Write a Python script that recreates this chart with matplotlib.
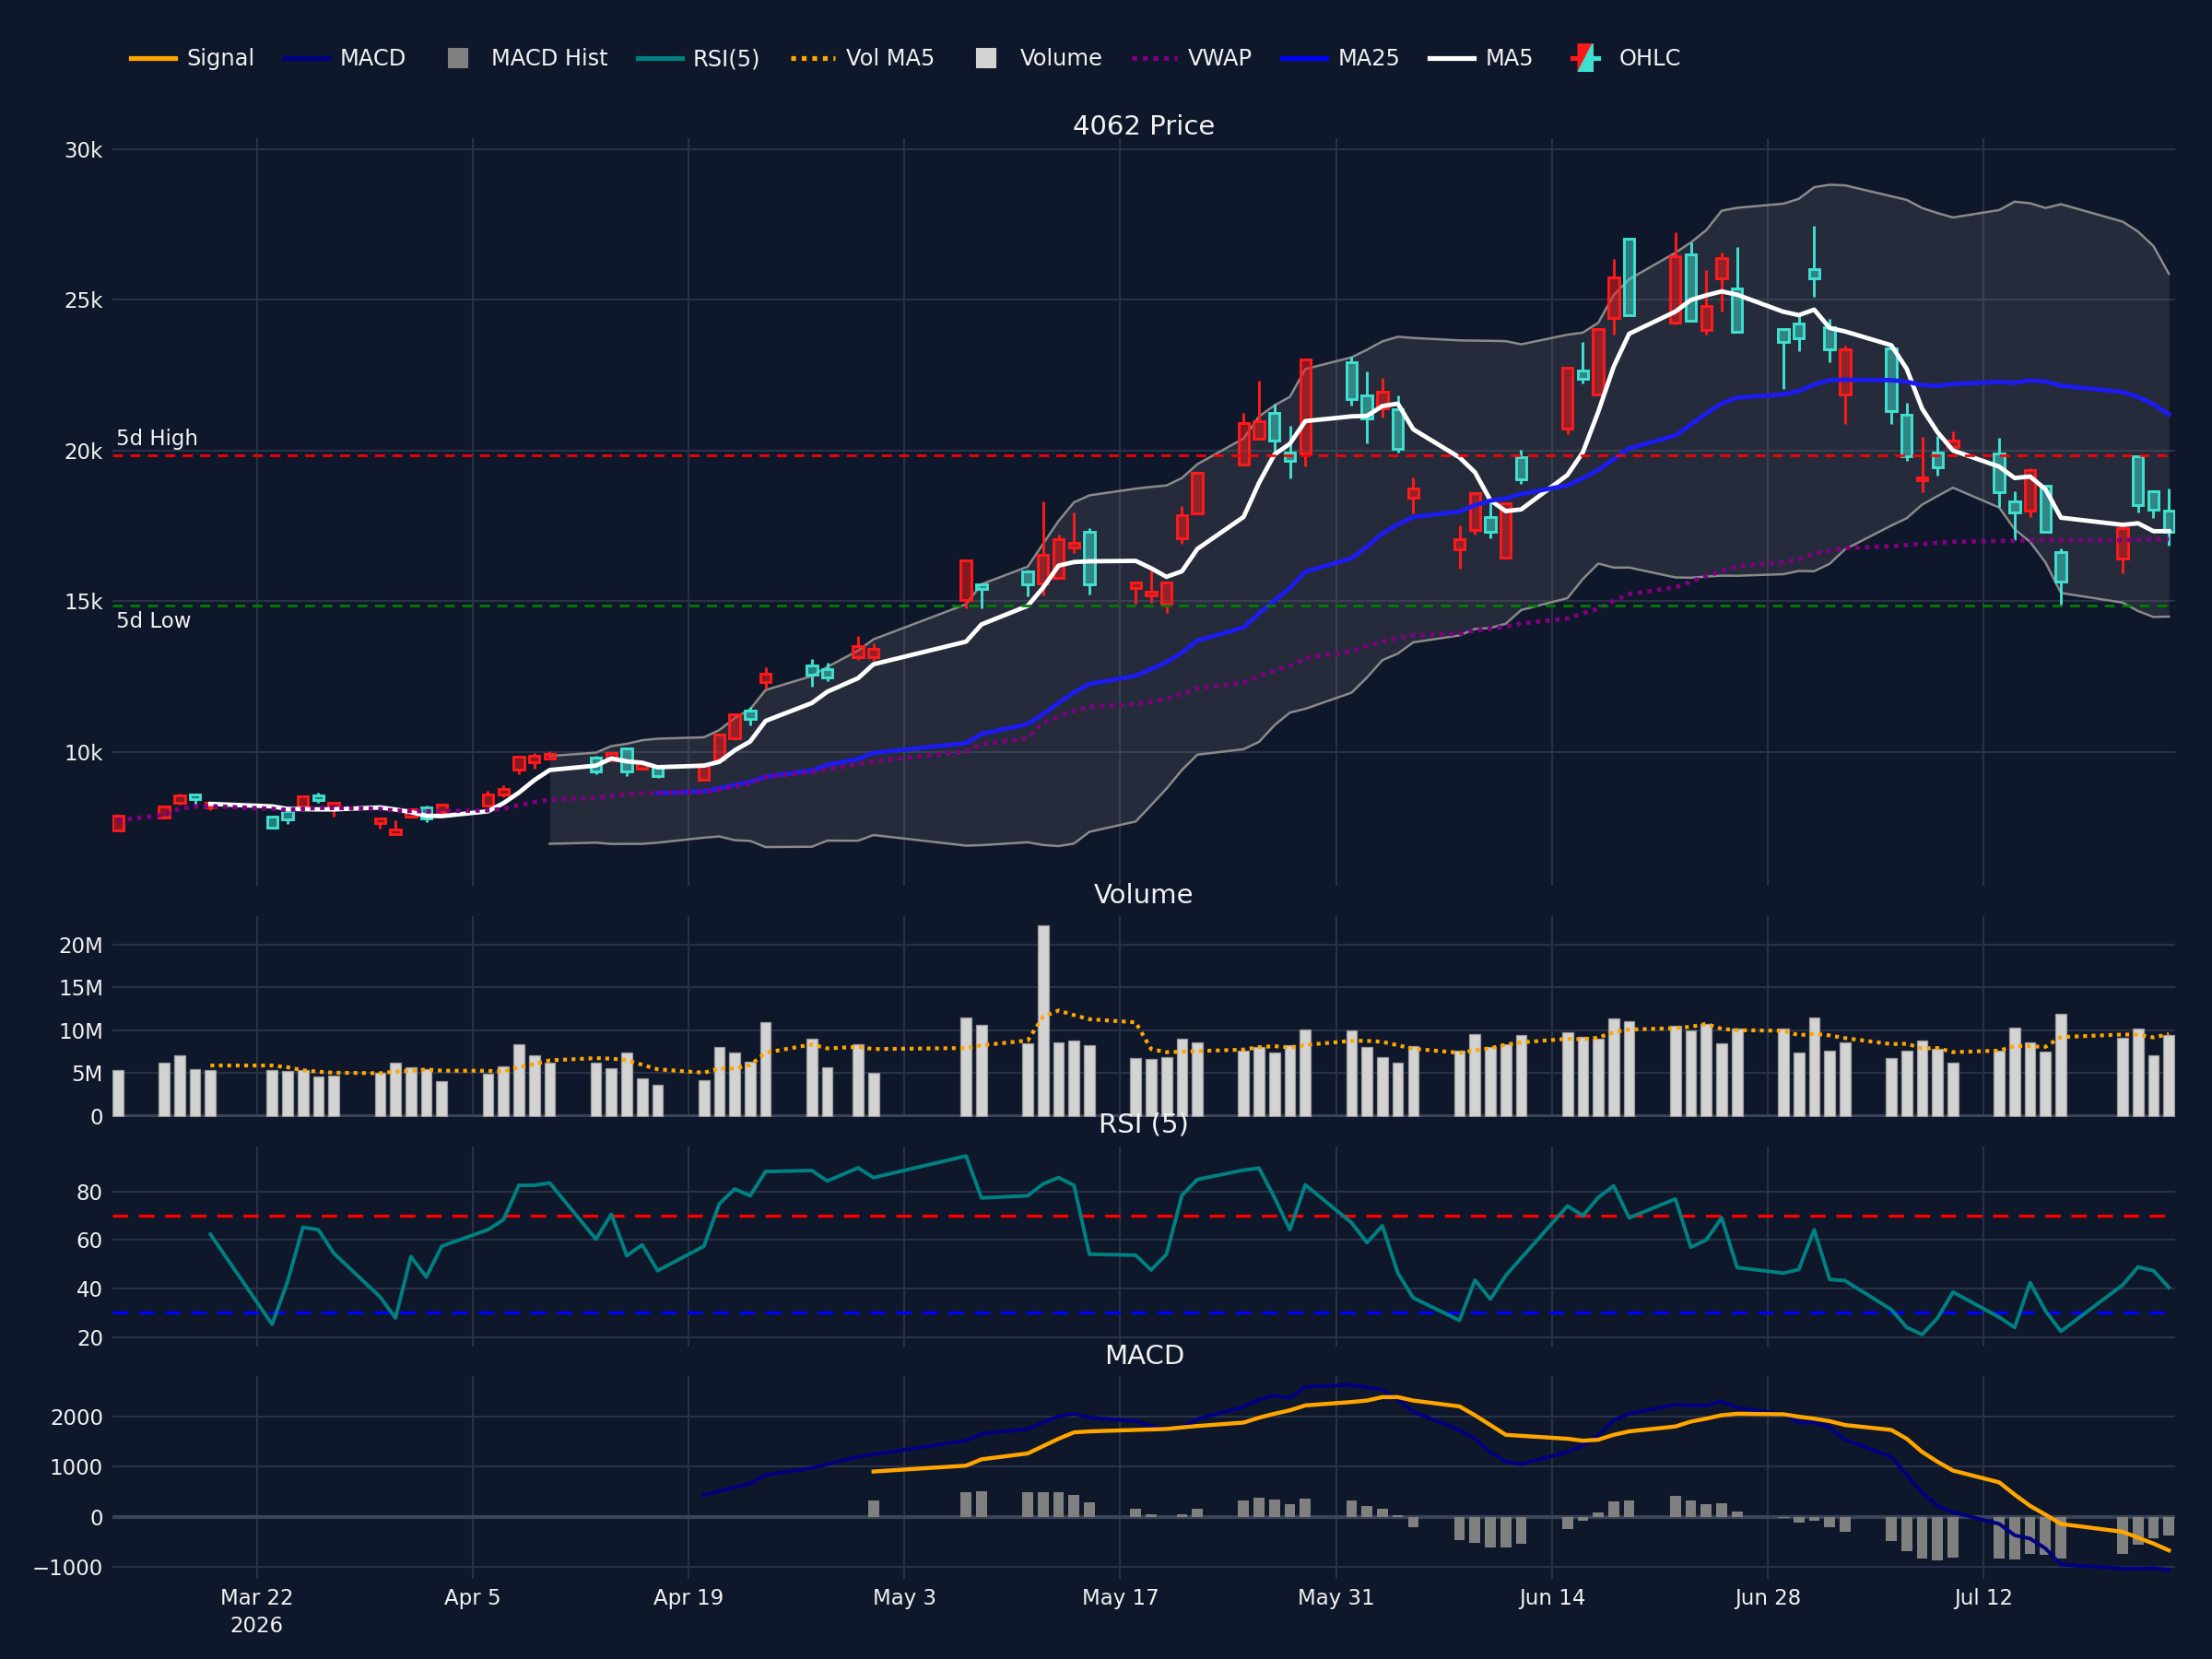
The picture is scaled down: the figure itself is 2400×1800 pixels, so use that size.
import numpy as np
import pandas as pd
import matplotlib
matplotlib.use("Agg")
import matplotlib.pyplot as plt
import matplotlib.dates as mdates
from matplotlib.lines import Line2D
from matplotlib.patches import Polygon
from matplotlib.legend_handler import HandlerBase
from matplotlib.colors import to_rgba

# ---- data ----
dates = ["2026-03-13", "2026-03-16", "2026-03-17", "2026-03-18", "2026-03-19",
         "2026-03-23", "2026-03-24", "2026-03-25", "2026-03-26", "2026-03-27",
         "2026-03-30", "2026-03-31",
         "2026-04-01", "2026-04-02", "2026-04-03", "2026-04-06", "2026-04-07",
         "2026-04-08", "2026-04-09", "2026-04-10", "2026-04-13", "2026-04-14",
         "2026-04-15", "2026-04-16", "2026-04-17", "2026-04-20", "2026-04-21",
         "2026-04-22", "2026-04-23", "2026-04-24", "2026-04-27", "2026-04-28",
         "2026-04-30",
         "2026-05-01", "2026-05-07", "2026-05-08", "2026-05-11", "2026-05-12",
         "2026-05-13", "2026-05-14", "2026-05-15", "2026-05-18", "2026-05-19",
         "2026-05-20", "2026-05-21", "2026-05-22", "2026-05-25", "2026-05-26",
         "2026-05-27", "2026-05-28", "2026-05-29",
         "2026-06-01", "2026-06-02", "2026-06-03", "2026-06-04", "2026-06-05",
         "2026-06-08", "2026-06-09", "2026-06-10", "2026-06-11", "2026-06-12",
         "2026-06-15", "2026-06-16", "2026-06-17", "2026-06-18", "2026-06-19",
         "2026-06-22", "2026-06-23", "2026-06-24", "2026-06-25", "2026-06-26",
         "2026-06-29", "2026-06-30",
         "2026-07-01", "2026-07-02", "2026-07-03", "2026-07-06", "2026-07-07",
         "2026-07-08", "2026-07-09", "2026-07-10", "2026-07-13", "2026-07-14",
         "2026-07-15", "2026-07-16", "2026-07-17", "2026-07-21", "2026-07-22",
         "2026-07-23", "2026-07-24"]

opens = [7400, 7810, 8300, 8580, 8150, 7870, 8040, 8200, 8550, 8140, 7640, 7260,
         7840, 8170, 8010, 8210, 8590, 9420, 9650, 9780, 9800, 9720, 10110, 9440,
         9500, 9090, 9760, 10440, 11360, 12310, 12870, 12750, 13160,
         13160, 15040, 15570, 16000, 15590, 15780, 16800, 17300, 15450, 15190,
         14910, 17100, 17920, 19550, 20390, 21265, 19930, 19910,
         22950, 21820, 21410, 21390, 18430, 16715, 17380, 17800, 16440, 19790,
         20720, 22650, 21860, 24400, 27030, 24250, 26525, 24020, 25720, 25390,
         24040, 24230,
         26030, 24090, 21860, 23400, 21205, 19020, 19930, 20130, 19900, 18320,
         18010, 18835, 16630, 16410, 19825, 18660, 18020]
highs = [7920, 8210, 8620, 8590, 8320, 7900, 8070, 8530, 8640, 8310, 7810, 7720,
         8100, 8210, 8250, 8720, 8880, 9830, 9970, 10030, 9880, 9980, 10150, 9660,
         9510, 9610, 10600, 11260, 11500, 12820, 13100, 12950, 13840,
         13600, 16380, 15600, 16050, 18310, 17200, 17940, 17420, 15630, 16030,
         15630, 18170, 19280, 21240, 22310, 21570, 20810, 23020,
         23120, 22630, 22410, 21820, 19120, 17510, 18620, 18280, 18260, 20030,
         22780, 23610, 24060, 26360, 27040, 27250, 26910, 25980, 26570, 26770,
         24060, 24490,
         27450, 24360, 23500, 23410, 21600, 20460, 20500, 20640, 20430, 18660,
         19430, 18850, 16770, 17450, 19850, 18670, 18730]
lows = [7380, 7800, 8250, 8250, 8070, 7460, 7600, 8190, 8320, 7870, 7460, 7240,
        7830, 7660, 8000, 8200, 8500, 9270, 9440, 9760, 9270, 9700, 9210, 9420,
        9150, 9080, 9740, 10400, 10880, 12100, 12170, 12340, 13050,
        13020, 14760, 14760, 15180, 15210, 15750, 16590, 15240, 14910, 14960,
        14600, 16920, 17900, 19500, 20380, 19930, 19090, 19470,
        21510, 20250, 21100, 19940, 17920, 16080, 17220, 17080, 16430, 18900,
        20550, 22220, 21850, 23840, 24480, 24180, 24290, 23850, 24620, 23930,
        22060, 23300,
        25100, 22940, 20900, 20900, 19660, 18630, 19180, 20120, 18140, 17040,
        17800, 17300, 14850, 15930, 17960, 17780, 16840]
closes = [7890, 8190, 8550, 8450, 8300, 7480, 7770, 8520, 8400, 8300, 7800, 7430,
          8090, 7790, 8245, 8600, 8780, 9830, 9860, 9930, 9340, 9960, 9340, 9640,
          9190, 9600, 10590, 11255, 11100, 12610, 12566, 12460, 13510,
          13410, 16360, 15420, 15550, 16540, 17050, 16950, 15550, 15620, 15320,
          15620, 17870, 19265, 20930, 20980, 20320, 19650, 23020,
          21720, 21060, 21950, 20060, 18755, 17050, 18600, 17310, 18250, 19040,
          22760, 22370, 24040, 25740, 24485, 26440, 24300, 24810, 26390, 23940,
          23610, 23740,
          25720, 23350, 23370, 21310, 19825, 19100, 19450, 20340, 18630, 17940,
          19350, 17320, 15640, 17440, 18200, 18040, 17320]
volumes_m = [5.3, 6.2, 7.1, 5.4, 5.3, 5.3, 5.2, 5.3, 4.6, 4.7, 5.0, 6.2,
             5.7, 5.4, 4.0, 4.9, 5.8, 8.3, 7.1, 6.2, 6.2, 5.5, 7.4, 4.4, 3.6,
             4.2, 8.0, 7.4, 6.3, 10.9, 9.0, 5.7, 8.3,
             5.0, 11.5, 10.6, 8.5, 22.2, 8.6, 8.8, 8.2, 6.7, 6.6, 6.8, 9.0, 8.6,
             7.6, 8.0, 7.4, 8.2, 10.1,
             10.0, 8.0, 6.8, 6.2, 8.1, 7.6, 9.5, 8.0, 8.3, 9.4, 9.7, 9.2, 9.0,
             11.4, 11.0, 10.5, 10.0, 10.7, 8.5, 10.2, 10.2, 7.4,
             11.5, 7.6, 8.6, 6.7, 7.6, 8.8, 7.8, 6.2, 7.6, 10.3, 8.6, 7.5, 11.9,
             9.1, 10.2, 7.0, 9.4]

# RSI(5) from Mar 19 on
rsi_vals = [62.3, 25.2, 42.8, 65.2, 64.2, 54.5, 36.5, 27.8,
            53.1, 44.7, 57.4, 64.2, 68.3, 82.5, 82.5, 83.5, 60.3, 70.6, 53.5,
            58.0, 47.3, 57.4, 74.9, 81.0, 78.2, 88.2, 88.6, 84.3, 89.7,
            85.7, 94.6, 77.3, 78.2, 83.1, 85.7, 82.5, 54.1, 53.7, 47.6, 54.1,
            78.4, 84.9, 88.8, 89.6, 77.5, 64.2, 82.7,
            67.1, 58.9, 65.8, 46.3, 36.1, 26.8, 43.4, 35.6, 45.3, 52.5, 74.0,
            70.0, 77.5, 82.3, 69.1, 76.9, 57.0, 60.0, 69.1, 48.6, 46.3, 47.8,
            64.2, 43.7, 43.2, 31.3, 23.9, 21.0, 27.8, 38.5, 28.1, 23.9, 42.4,
            30.7, 22.3, 41.4, 48.8, 47.3, 40.4]
# MACD from Apr 20 on
macd_vals = [433, 511, 590, 659, 836, 973, 1052, 1200,
             1249, 1524, 1662, 1760, 1888, 2016, 2065, 1986, 1917, 1819, 1760,
             1790, 1957, 2203, 2350, 2429, 2380, 2606,
             2645, 2596, 2547, 2350, 2104, 1740, 1563, 1298, 1101, 1052, 1298,
             1426, 1642, 1937, 2065, 2252, 2232, 2232, 2311, 2183, 2055, 1888,
             1888, 1790, 1544, 1200, 836, 482, 216, 88, -147, -374, -442, -639,
             -964, -1042, -1042, -1032, -1072]
# Signal and histogram from May 1 on
signal_vals = [905, 1023, 1150, 1268, 1416, 1563, 1691, 1711, 1740, 1750, 1760,
               1790, 1819, 1888, 1986, 2065, 2134, 2232,
               2301, 2330, 2399, 2399, 2330, 2212, 2035, 1839, 1642, 1622, 1563,
               1524, 1544, 1642, 1711, 1809, 1908, 1967, 2035, 2065, 2055, 2006,
               1967, 1917, 1839, 1740, 1563, 1298, 1101, 924, 688, 442, 216, 39,
               -147, -305, -423, -541, -678]
hist_vals = [324, 492, 501, 482, 482, 482, 433, 285, 157, 39, -10, 39, 157, 315,
             383, 344, 256, 364,
             315, 206, 157, 20, -206, -472, -521, -619, -619, -541, -246, -88,
             88, 305, 315, 423, 315, 246, 275, 108, -20, -128,
             -88, -206, -305, -492, -688, -836, -885, -816, -836, -865, -747,
             -767, -836, -747, -570, -442, -374]

tick_dates = ["2026-03-22", "2026-04-05", "2026-04-19", "2026-05-03", "2026-05-17",
              "2026-05-31", "2026-06-14", "2026-06-28", "2026-07-12"]
tick_labels = ["Mar 22\n2026", "Apr 5", "Apr 19", "May 3", "May 17", "May 31",
               "Jun 14", "Jun 28", "Jul 12"]

# ---- derived series ----
x = mdates.date2num(pd.to_datetime(dates))
o = np.array(opens, float)
h = np.array(highs, float)
l = np.array(lows, float)
c = np.array(closes, float)
vol = np.array(volumes_m) * 1e6
n = len(c)

s = pd.Series(c)
ma5 = s.rolling(5).mean()
ma25 = s.rolling(25).mean()
bb_mid = s.rolling(20).mean()
bb_sd = s.rolling(20).std()
bb_up = bb_mid + 2 * bb_sd
bb_lo = bb_mid - 2 * bb_sd
tp = (h + l + c) / 3
vwap = np.cumsum(tp * vol) / np.cumsum(vol)
vol_ma5 = pd.Series(vol).rolling(5).mean()
hi5 = h[-5:].max()
lo5 = l[-5:].min()

def pad(v):
    return np.r_[[np.nan] * (n - len(v)), v]

rsi = pad(rsi_vals)
macd = pad(macd_vals)
signal = pad(signal_vals)
hist = pad(hist_vals)

# ---- style ----
BG = "#0f172a"
GRID = "#283246"
TXT = "#f2f2f2"
UP = "#ff1a1a"
DOWN = "#40e0d0"

fig = plt.figure(figsize=(16, 12), dpi=150, facecolor=BG)
L, R = 0.051, 0.9835
ax_p = fig.add_axes([L, 0.4661, R - L, 0.4506])
ax_v = fig.add_axes([L, 0.3267, R - L, 0.1211], sharex=ax_p)
ax_r = fig.add_axes([L, 0.1883, R - L, 0.1206], sharex=ax_p)
ax_m = fig.add_axes([L, 0.0483, R - L, 0.1222], sharex=ax_p)

for ax in (ax_p, ax_v, ax_r, ax_m):
    ax.set_facecolor(BG)
    for sp in ax.spines.values():
        sp.set_visible(False)
    ax.grid(True, color=GRID, lw=1.0)
    ax.set_axisbelow(True)
    ax.tick_params(length=0, colors=TXT, labelsize=11, pad=5)

# price panel
ax_p.fill_between(x, bb_lo, bb_up, color=(0.5, 0.5, 0.5, 0.2), lw=0, zorder=1)
ax_p.plot(x, bb_up, color="#8a8a8a", lw=1.2, zorder=2)
ax_p.plot(x, bb_lo, color="#8a8a8a", lw=1.2, zorder=2)

col = np.where(c >= o, UP, DOWN)
top = np.maximum(o, c)
bot = np.minimum(o, c)
ax_p.vlines(x, top, h, colors=col, lw=1.4, zorder=3)
ax_p.vlines(x, l, bot, colors=col, lw=1.4, zorder=3)
ax_p.bar(x, np.maximum(top - bot, 40), bottom=bot, width=0.68,
         color=[to_rgba(cc, 0.5) for cc in col], edgecolor=col, linewidth=1.4,
         zorder=4)

ax_p.plot(x, ma5, color="white", lw=2.3, zorder=5)
ax_p.plot(x, ma25, color="#1c1cf0", lw=2.3, zorder=5)
ax_p.plot(x, vwap, color="#800080", lw=2.3, ls=(0, (1, 1.2)), zorder=5)

ax_p.axhline(hi5, color="#ff0000", lw=1.3, ls=(0, (4, 3)), zorder=6)
ax_p.axhline(lo5, color="#008000", lw=1.3, ls=(0, (4, 3)), zorder=6)

ax_p.set_ylim(5560, 30370)
ax_p.set_yticks([10000, 15000, 20000, 25000, 30000])
ax_p.set_yticklabels(["10k", "15k", "20k", "25k", "30k"])

x0 = mdates.date2num(pd.Timestamp("2026-03-22")) - 9.33
x1 = mdates.date2num(pd.Timestamp("2026-03-22")) + 124.43
ax_p.set_xlim(x0, x1)
ax_p.text(x0 + 0.2, hi5 + 180, "5d High", color=TXT, fontsize=11, va="bottom", ha="left", zorder=7)
ax_p.text(x0 + 0.2, lo5 - 180, "5d Low", color=TXT, fontsize=11, va="top", ha="left", zorder=7)

# volume panel
ax_v.bar(x, vol, width=0.7, color="#d3d3d3", edgecolor="#9a9a9a", linewidth=0.6, zorder=2)
ax_v.plot(x, vol_ma5, color="#ffa500", lw=2.0, ls=(0, (1, 1.2)), zorder=3)
ax_v.axhline(0, color="#3a4456", lw=2, zorder=1)
ax_v.set_ylim(-0.15e6, 23.3e6)
ax_v.set_yticks([0, 5e6, 10e6, 15e6, 20e6])
ax_v.set_yticklabels(["0", "5M", "10M", "15M", "20M"])

# RSI panel
ax_r.plot(x, rsi, color="#008080", lw=1.9, zorder=3)
ax_r.axhline(70, color="#ff0000", lw=1.6, ls=(0, (5, 3.5)), zorder=2)
ax_r.axhline(30, color="#0000ff", lw=1.6, ls=(0, (5, 3.5)), zorder=2)
ax_r.set_ylim(16, 98.5)
ax_r.set_yticks([20, 40, 60, 80])

# MACD panel
ax_m.axhline(0, color="#3a4456", lw=2, zorder=1)
ax_m.bar(x, hist, width=0.7, color="#808080", zorder=2)
ax_m.plot(x, macd, color="#000080", lw=1.9, zorder=3)
ax_m.plot(x, signal, color="#ffa500", lw=2.1, zorder=4)
ax_m.set_ylim(-1250, 2820)
ax_m.set_yticks([-1000, 0, 1000, 2000])
ax_m.set_yticklabels(["\u22121000", "0", "1000", "2000"])

ax_m.set_xticks(mdates.date2num(pd.to_datetime(tick_dates)))
ax_m.set_xticklabels(tick_labels, linespacing=1.35)
for ax in (ax_p, ax_v, ax_r):
    ax.tick_params(labelbottom=False)

# panel titles
cx = (L + R) / 2
fig.text(cx, 0.9233, "4062 Price", color=TXT, fontsize=14, ha="center", va="center")
fig.text(cx, 0.4600, "Volume", color=TXT, fontsize=14, ha="center", va="center")
fig.text(cx, 0.3222, "RSI (5)", color=TXT, fontsize=14, ha="center", va="center")
fig.text(cx, 0.1822, "MACD", color=TXT, fontsize=14, ha="center", va="center")


# legend
class CandleHandler(HandlerBase):
    def create_artists(self, legend, orig_handle, xdescent, ydescent, width,
                       height, fontsize, trans):
        cx_ = width / 2 - xdescent
        bw = height * 0.9
        lft, rgt = cx_ - bw / 2, cx_ + bw / 2
        b, t = -ydescent - height * 0.35, height * 1.35
        red = Polygon([[lft, t], [rgt, t], [lft, b]], closed=True,
                      facecolor=UP, edgecolor=UP, lw=1, transform=trans)
        teal = Polygon([[rgt, t], [rgt, b], [lft, b]], closed=True,
                       facecolor=DOWN, edgecolor=DOWN, lw=1, transform=trans)
        ym = (t + b) / 2
        w1 = Line2D([lft - bw * 0.4, lft], [ym, ym], color=UP, lw=2.5, transform=trans)
        w2 = Line2D([rgt, rgt + bw * 0.4], [ym, ym], color=DOWN, lw=2.5, transform=trans)
        return [w1, w2, red, teal]


ohlc_handle = Line2D([], [])
handles = [
    Line2D([], [], color="#ffa500", lw=2.5),
    Line2D([], [], color="#000080", lw=2.5),
    Line2D([], [], marker="s", ls="", color="#808080", markersize=10),
    Line2D([], [], color="#008080", lw=2.5),
    Line2D([], [], color="#ffa500", lw=2.5, ls=(0, (1, 1.2))),
    Line2D([], [], marker="s", ls="", color="#d3d3d3", markersize=10),
    Line2D([], [], color="#800080", lw=2.5, ls=(0, (1, 1.2))),
    Line2D([], [], color="#0000ff", lw=2.5),
    Line2D([], [], color="white", lw=2.5),
    ohlc_handle,
]
labels = ["Signal", "MACD", "MACD Hist", "RSI(5)", "Vol MA5", "Volume", "VWAP",
          "MA25", "MA5", "OHLC"]
leg = fig.legend(handles, labels, loc="center left", bbox_to_anchor=(0.05, 0.9644),
                 ncol=10, frameon=False, fontsize=11.6, labelcolor=TXT,
                 handlelength=2.0, handletextpad=0.5, columnspacing=1.32,
                 handler_map={ohlc_handle: CandleHandler()})

fig.savefig("out.png", dpi=150, facecolor=BG)
